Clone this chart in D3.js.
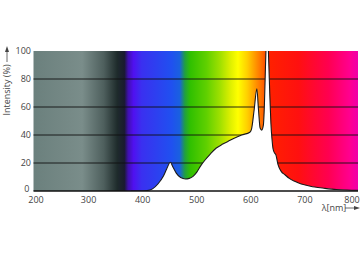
<!DOCTYPE html>
<html>
<head>
<meta charset="utf-8">
<script src="https://cdn.jsdelivr.net/npm/d3@7"></script>
<style>
  body { margin: 0; background: #fff; }
  text { font-family: "Open Sans", "Noto Sans", sans-serif; }
</style>
</head>
<body>
<svg id="chart" width="360" height="262"></svg>
<script>
// spectrum (wavelength in nm, relative intensity in %)
const wavelength = [380, 400, 410, 420, 430, 440, 446, 453, 458, 464, 472, 481, 488, 495, 502, 510, 518, 526, 538, 550, 560, 570, 585, 600, 603, 608, 613, 616, 619, 622, 625, 627, 629, 631, 633, 635, 637, 639, 641, 643, 646, 648, 652, 658, 665, 673, 683, 695, 708, 720, 739, 760, 780, 800]
const intensity  = [0, 0, 0.3, 1.5, 5, 10.5, 15.5, 20.5, 17, 12.8, 9.6, 8.6, 9, 10.5, 13.5, 18.5, 22.5, 26, 30.7, 33.5, 35.5, 37.5, 40, 42, 44, 58, 73, 58, 45, 43.5, 47, 62, 90, 110, 112, 92, 68, 48, 37, 30, 27, 26, 19, 14, 11.6, 9, 6.9, 5, 3.8, 2.8, 1.9, 1.1, 0.7, 0.5]

// background colour bands
const bandNm = [200, 290, 330, 355, 368, 375, 385, 400, 455, 470, 480, 490, 520, 545, 565, 578, 595, 612, 625, 637, 690, 745, 785, 800]
const bandColor = ["#6b807d", "#7a8d8a", "#4e5f5d", "#1e2b2b", "#1a1a30", "#4010b0", "#5010f0", "#3a30f0", "#2050f0", "#1a60e0", "#20a040", "#30c000", "#60d000", "#a0e000", "#e0f000", "#ffff00", "#ffd000", "#ff9000", "#ff6000", "#ff2000", "#ff1010", "#ff0050", "#ff0090", "#f000a8"]

const xTicks = [200, 300, 400, 500, 600, 700, 800]
const yTicks = [0, 20, 40, 60, 80, 100]
const yGrid = [20, 40, 60, 80]

const svg = d3.select("#chart")
const x = d3.scaleLinear().domain([200, 800]).range([33.5, 358])
const y = d3.scaleLinear().domain([0, 100]).range([191, 51])

const defs = svg.append("defs")
const grad = defs.append("linearGradient")
    .attr("id", "spectrum")
    .attr("gradientUnits", "userSpaceOnUse")
    .attr("x1", x(200)).attr("x2", x(800))
    .attr("y1", 0).attr("y2", 0)
grad.selectAll("stop")
    .data(bandNm)
    .enter()
    .append("stop")
    .attr("offset", d => (d - 200) / 600)
    .attr("stop-color", (d, i) => bandColor[i])

defs.append("clipPath").attr("id", "plot-clip")
    .append("rect")
    .attr("x", x(200)).attr("y", y(100))
    .attr("width", x(800) - x(200)).attr("height", y(0) - y(100))

// background
svg.append("rect")
    .attr("x", x(200)).attr("y", y(100))
    .attr("width", x(800) - x(200)).attr("height", y(0) - y(100))
    .attr("fill", "url(#spectrum)")

// grid lines
svg.selectAll(".grid")
    .data(yGrid)
    .enter()
    .append("line")
    .attr("class", "grid")
    .attr("x1", x(200)).attr("x2", x(800))
    .attr("y1", d => y(d)).attr("y2", d => y(d))
    .attr("stroke", "#111")
    .attr("stroke-width", 0.9)

const pts = wavelength.map((w, i) => [w, intensity[i]])

const plot = svg.append("g").attr("clip-path", "url(#plot-clip)")
plot.append("path")
    .datum(pts)
    .attr("d", d3.area().x(d => x(d[0])).y0(y(0)).y1(d => y(d[1])).curve(d3.curveMonotoneX))
    .attr("fill", "#fff")
plot.append("path")
    .datum(pts)
    .attr("d", d3.line().x(d => x(d[0])).y(d => y(d[1])).curve(d3.curveMonotoneX))
    .attr("fill", "none")
    .attr("stroke", "#1a1a1a")
    .attr("stroke-width", 1.1)

// x axis line
svg.append("line")
    .attr("x1", x(200)).attr("x2", x(800))
    .attr("y1", y(0)).attr("y2", y(0))
    .attr("stroke", "#111")
    .attr("stroke-width", 1.6)

// tick labels
svg.selectAll(".xlab")
    .data(xTicks)
    .enter()
    .append("text")
    .attr("class", "xlab")
    .attr("x", d => d === 800 ? x(d) - 6 : (d === 200 ? x(d) + 2.5 : x(d) + 1))
    .attr("y", 203)
    .attr("text-anchor", "middle")
    .attr("font-size", 9)
    .attr("fill", "#444")
    .text(d => d)

svg.selectAll(".ylab")
    .data(yTicks)
    .enter()
    .append("text")
    .attr("class", "ylab")
    .attr("x", d => d === 0 ? 29.5 : 31)
    .attr("y", d => d === 0 ? y(d) + 1 : y(d) + 3)
    .attr("text-anchor", "end")
    .attr("font-size", 9)
    .attr("fill", "#444")
    .text(d => d)

// axis titles with arrows
svg.append("text")
    .attr("transform", "translate(10,90) rotate(-90)")
    .attr("text-anchor", "middle")
    .attr("font-size", 9)
    .attr("fill", "#444")
    .text("Intensity (%)")
svg.append("line")
    .attr("x1", 7).attr("x2", 7).attr("y1", 62).attr("y2", 50)
    .attr("stroke", "#444").attr("stroke-width", 0.8)
svg.append("path")
    .attr("d", "M5,52 L7,46 L9,52 Z")
    .attr("fill", "#444")

svg.append("text")
    .attr("x", 334)
    .attr("y", 211)
    .attr("text-anchor", "middle")
    .attr("font-size", 9)
    .attr("fill", "#444")
    .text("λ[nm]")
svg.append("line")
    .attr("x1", 345).attr("x2", 356).attr("y1", 208).attr("y2", 208)
    .attr("stroke", "#444").attr("stroke-width", 0.8)
svg.append("path")
    .attr("d", "M354,206 L360,208 L354,210 Z")
    .attr("fill", "#444")
</script>
</body>
</html>
